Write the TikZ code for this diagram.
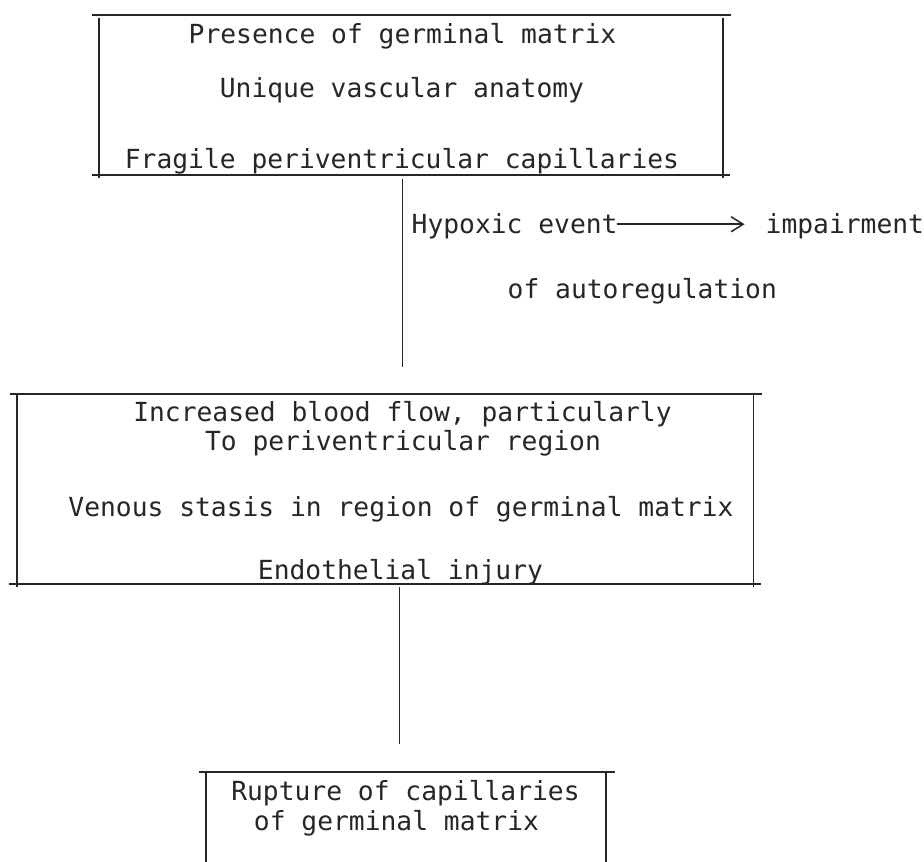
\documentclass[tikz,border=0pt]{standalone}
\usepackage{fontspec}
\setmonofont{DejaVu Sans Mono}
\usetikzlibrary{arrows.meta}
\definecolor{ink}{HTML}{262626}
\tikzset{
  txt/.style={font=\ttfamily\fontsize{26.3}{30}\selectfont, text=ink, inner sep=0pt, anchor=base},
  boxarea/.style={draw=none, inner sep=0pt, minimum width=#1},
  rule/.style={draw=ink, line width=1.8pt},
  conn/.style={draw=ink, line width=1.6pt},
  arrowline/.style={draw=ink, line width=1.5pt, -{Straight Barb[length=12pt,width=15pt,line width=1.5pt]}}
}
\begin{document}
\begin{tikzpicture}[x=1pt,y=-1pt]
\useasboundingbox[fill=white] (0,0) rectangle (924,862);

% ---- top box
\node[boxarea=624pt, minimum height=159.5pt] (b1) at (411,94.75) {};
\draw[rule] ([xshift=-7pt]b1.north west) -- ([xshift=8pt]b1.north east);
\draw[rule] ([xshift=-7pt]b1.south west) -- ([xshift=7pt]b1.south east);
\draw[rule] ([yshift=-3pt]b1.north west) -- ([yshift=-3pt]b1.south west);
\draw[rule] ([yshift=-3pt]b1.north east) -- ([yshift=-3pt]b1.south east);
\node[txt] (t1) at (402.5,43) {Presence of germinal matrix};
\node[txt] (t2) at (402,97) {Unique vascular anatomy};
\node[txt] (t3) at (402,168) {Fragile periventricular capillaries};

% ---- connector 1 and side note
\coordinate (c1) at (402.5,367);
\draw[conn] ([yshift=-4pt]b1.south -| c1) -- (c1);
\node[txt, anchor=base west] (hyp) at (411.5,233) {Hypoxic event};
\node[txt, anchor=base west] (imp) at (765.5,233) {impairment};
\node[txt, anchor=base west] (auto) at (507.5,298) {of autoregulation};
\draw[arrowline] ([xshift=-1pt,yshift=1.5pt]hyp.east) -- ([xshift=-21pt,yshift=1.5pt]imp.west |- hyp.east);

% ---- middle box
\node[boxarea=736pt, minimum height=189.5pt] (b2) at (385.3,489.25) {};
\draw[rule] ([xshift=-7.5pt]b2.north west) -- ([xshift=8.5pt]b2.north east);
\draw[rule] ([xshift=-8pt]b2.south west) -- ([xshift=7pt]b2.south east);
\draw[rule] (b2.north west) -- ([yshift=-3pt]b2.south west);
\draw[rule] (b2.north east) -- ([yshift=-3pt]b2.south east);
\node[txt] (m1) at (402.5,421.7) {Increased blood flow, particularly};
\node[txt] (m2) at (403,450) {To periventricular region};
\node[txt] (m3) at (401,516.7) {Venous stasis in region of germinal matrix};
\node[txt] (m4) at (400.5,579) {Endothelial injury};

% ---- connector 2
\coordinate (c2) at (399.5,744);
\draw[conn] ([yshift=-3pt]b2.south -| c2) -- (c2);

% ---- bottom box (cut off by the page edge)
\node[boxarea=400pt, minimum height=90pt] (b3) at (406,817) {};
\draw[rule] ([xshift=-7pt]b3.north west) -- ([xshift=9pt]b3.north east);
\draw[rule] (b3.north west) -- (b3.south west);
\draw[rule] (b3.north east) -- (b3.south east);
\node[txt] (r1) at (405.5,800) {Rupture of capillaries};
\node[txt] (r2) at (396.5,830) {of germinal matrix};
\end{tikzpicture}
\end{document}
